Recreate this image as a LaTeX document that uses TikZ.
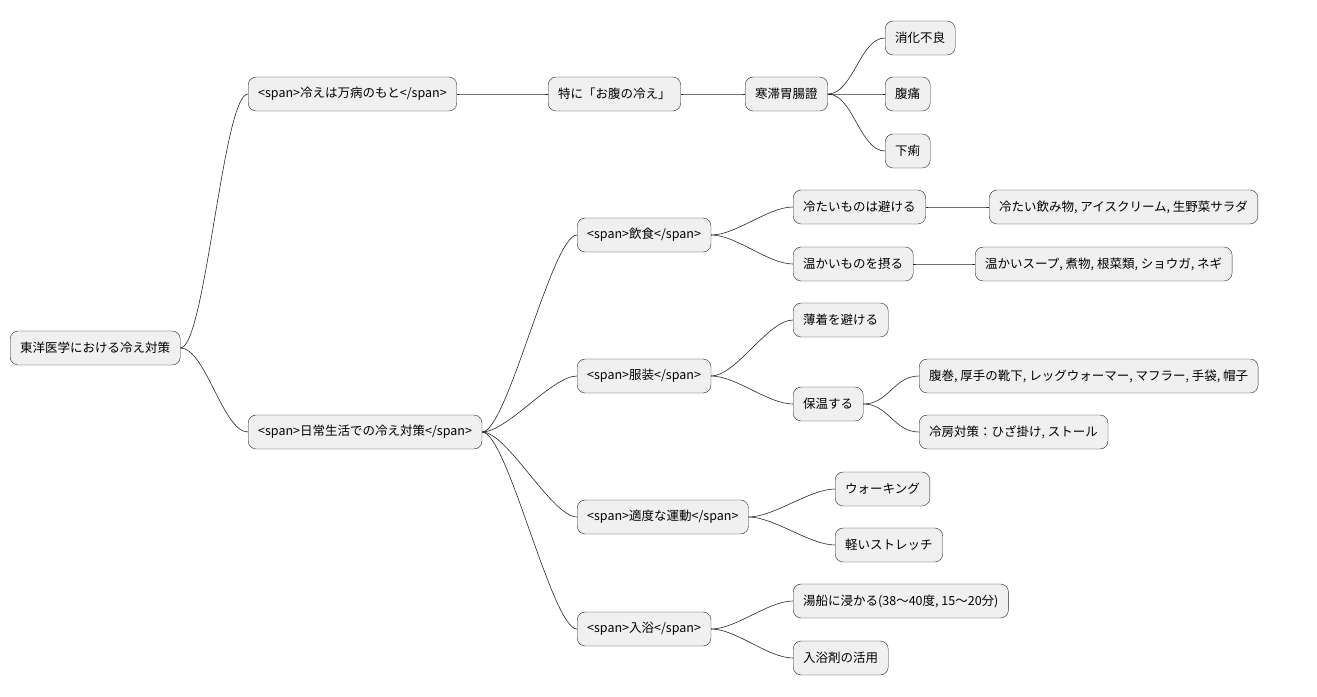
\documentclass[tikz,border=0pt]{standalone}
\usepackage{fontspec}
\setmainfont{Noto Sans CJK JP}
\usetikzlibrary{positioning}
\tikzset{
  box/.style={draw=black!85, fill=black!6, rounded corners=8pt, anchor=west,
    minimum height=34pt, inner xsep=10pt, font=\fontsize{12.5}{14}\selectfont},
  link/.style={draw=black!85, line width=0.6pt}
}
\newcommand{\conn}[2]{\draw[link] (#1.east) .. controls +(25,0) and +(-25,0) .. (#2.west);}
\begin{document}
\begin{tikzpicture}[x=1pt,y=-1pt]
  \useasboundingbox (0,0) rectangle (1317,696);

  \node[box] (root) at (10,348) {東洋医学における冷え対策};

  \node[box] (root1) at (248,94) {<span>冷えは万病のもと</span>};
  \node[box] (belly) at (548,94) {特に「お腹の冷え」};
  \node[box] (cold) at (745,94) {寒滞胃腸證};
  \node[box] (dig) at (885,38) {消化不良};
  \node[box] (pain) at (885,94) {腹痛};
  \node[box] (diar) at (885,151) {下痢};

  \node[box] (root2) at (248,432) {<span>日常生活での冷え対策</span>};
  \node[box] (food) at (577,235) {<span>飲食</span>};
  \node[box] (avoid) at (793,207) {冷たいものは避ける};
  \node[box] (avoidx) at (989,207) {冷たい飲み物, アイスクリーム, 生野菜サラダ};
  \node[box] (warm) at (793,264) {温かいものを摂る};
  \node[box] (warmx) at (975,264) {温かいスープ, 煮物, 根菜類, ショウガ, ネギ};

  \node[box] (cloth) at (577,376) {<span>服装</span>};
  \node[box] (thin) at (793,320) {薄着を避ける};
  \node[box] (keep) at (793,404) {保温する};
  \node[box] (keepa) at (919,376) {腹巻, 厚手の靴下, レッグウォーマー, マフラー, 手袋, 帽子};
  \node[box] (keepb) at (919,432) {冷房対策：ひざ掛け, ストール};

  \node[box] (move) at (577,517) {<span>適度な運動</span>};
  \node[box] (walk) at (835,489) {ウォーキング};
  \node[box] (stretch) at (835,545) {軽いストレッチ};

  \node[box] (bath) at (577,629) {<span>入浴</span>};
  \node[box] (tub) at (793,601) {湯船に浸かる(38〜40度, 15〜20分)};
  \node[box] (salt) at (793,658) {入浴剤の活用};

  \conn{root}{root1} \conn{root}{root2}
  \conn{root1}{belly} \conn{belly}{cold}
  \conn{cold}{dig} \conn{cold}{pain} \conn{cold}{diar}
  \conn{root2}{food} \conn{root2}{cloth} \conn{root2}{move} \conn{root2}{bath}
  \conn{food}{avoid} \conn{avoid}{avoidx}
  \conn{food}{warm} \conn{warm}{warmx}
  \conn{cloth}{thin} \conn{cloth}{keep}
  \conn{keep}{keepa} \conn{keep}{keepb}
  \conn{move}{walk} \conn{move}{stretch}
  \conn{bath}{tub} \conn{bath}{salt}
\end{tikzpicture}
\end{document}
